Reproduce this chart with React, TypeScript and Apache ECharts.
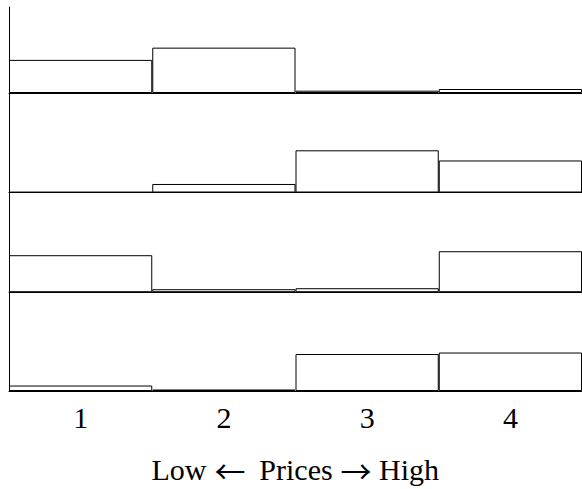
import React, { useEffect, useRef } from "react";
import * as echarts from "echarts";

const categories = ["1", "2", "3", "4"];
const panel1 = [0.4, 0.548, 0.028, 0.048];
const panel2 = [0.006, 0.103, 0.51, 0.387];
const panel3 = [0.447, 0.036, 0.048, 0.495];
const panel4 = [0.066, 0.018, 0.447, 0.465];
const panels = [panel1, panel2, panel3, panel4];
const titleParts = ["Low", "\u2190", "Prices", "\u2192", "High"];

const FONT = "Liberation Serif";
const ARROW_FONT = "Noto Sans CJK SC";

export default function App() {
  const ref = useRef<HTMLDivElement>(null);
  useEffect(() => {
    if (!ref.current) return;
    const chart = echarts.init(ref.current, undefined, { renderer: "svg" });
    const tops = [7, 93, 192.5, 292.2];
    const bottoms = [93, 192.5, 292.2, 391];
    const pxPerUnit = 82.75;
    const grids = panels.map((_, i) => ({
      left: 9,
      width: 576,
      top: tops[i],
      height: bottoms[i] - tops[i],
      containLabel: false,
    }));
    const xAxes = panels.map((_, i) => ({
      type: "category",
      gridIndex: i,
      data: categories,
      axisLine: { show: true, lineStyle: { color: "#000", width: 1 } },
      axisTick: { show: false },
      axisLabel: {
        show: i === panels.length - 1,
        fontFamily: FONT,
        fontSize: 30,
        color: "#000",
        margin: 11,
      },
      splitLine: { show: false },
    }));
    const yAxes = panels.map((_, i) => ({
      type: "value",
      gridIndex: i,
      min: 0,
      max: (bottoms[i] - tops[i]) / pxPerUnit,
      axisLine: { show: true, lineStyle: { color: "#000", width: 1 } },
      axisTick: { show: false },
      axisLabel: { show: false },
      splitLine: { show: false },
    }));
    const series = panels.map((vals, i) => ({
      type: "bar",
      xAxisIndex: i,
      yAxisIndex: i,
      data: vals,
      barWidth: "100%",
      barCategoryGap: 0,
      itemStyle: { color: "rgba(255,255,255,0)", borderColor: "#000", borderWidth: 1 },
      emphasis: { disabled: true },
      silent: true,
    }));
    const centers = [179, 230, 296, 356, 409];
    const title = titleParts.map((t, i) => ({
      type: "text",
      x: centers[i],
      y: 469,
      style: {
        text: t,
        fontFamily: i % 2 === 1 ? ARROW_FONT : FONT,
        fontSize: i % 2 === 1 ? 31 : 30,
        fill: "#000",
        align: "center",
        verticalAlign: "middle",
      },
    }));
    chart.setOption({
      animation: false,
      backgroundColor: "#fff",
      textStyle: { fontFamily: FONT },
      grid: grids,
      xAxis: xAxes,
      yAxis: yAxes,
      series,
      graphic: title,
    });
    return () => chart.dispose();
  }, []);
  return (
    <div
      ref={ref}
      style={{ position: "fixed", left: 0, top: 0, width: 582, height: 489, background: "#fff" }}
    />
  );
}
